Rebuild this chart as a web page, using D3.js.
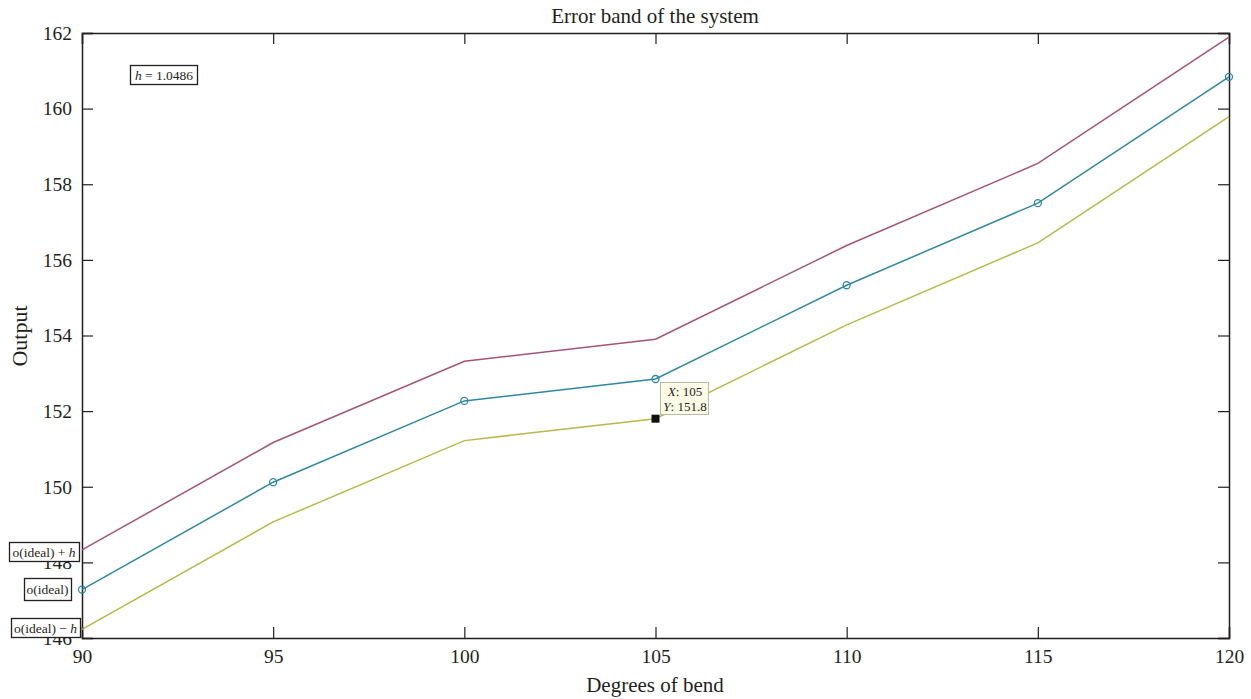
<!DOCTYPE html>
<html><head><meta charset="utf-8">
<script src="https://cdn.jsdelivr.net/npm/d3@7"></script>
<style>
html,body{margin:0;padding:0;background:#fff;}
svg text{font-family:"Liberation Serif","DejaVu Serif",serif;fill:#231f20;}
</style></head>
<body>
<svg id="chart" width="1251" height="699"></svg>
<script>
const degrees = [90, 95, 100, 105, 110, 115, 120];
const idealOutput = [147.28, 150.12, 152.27, 152.85, 155.33, 157.50, 160.84];
const upperOutput = [148.33, 151.17, 153.32, 153.90, 156.38, 158.55, 161.89];
const lowerOutput = [146.23, 149.07, 151.22, 151.80, 154.28, 156.45, 159.79];
const xTicks = [90, 95, 100, 105, 110, 115, 120];
const yTicks = [146, 148, 150, 152, 154, 156, 158, 160, 162];
const hValue = "1.0486";
const tipX = 105, tipY = 151.8;

const svg = d3.select("#chart");
const L = 82, R = 1229, T = 33, B = 638;
const x = d3.scaleLinear().domain([90, 120]).range([L, R]);
const y = d3.scaleLinear().domain([146, 162]).range([B, T]);
const axisColor = "#231f20";
const fs = 19.5;

// axes with inward ticks
const gB = svg.append("g").attr("transform", `translate(0,${B})`)
  .call(d3.axisBottom(x).tickValues(xTicks).tickSize(-11).tickPadding(11).tickFormat(d3.format("d")));
const gT = svg.append("g").attr("transform", `translate(0,${T})`)
  .call(d3.axisTop(x).tickValues(xTicks).tickSize(-11).tickFormat(""));
const gL = svg.append("g").attr("transform", `translate(${L},0)`)
  .call(d3.axisLeft(y).tickValues(yTicks).tickSize(-11).tickPadding(10).tickFormat(d3.format("d")));
const gR = svg.append("g").attr("transform", `translate(${R},0)`)
  .call(d3.axisRight(y).tickValues(yTicks).tickSize(-11).tickFormat(""));
[gB, gT, gL, gR].forEach(g => {
  g.selectAll("path").attr("stroke", axisColor).attr("stroke-width", 1.5);
  g.selectAll("line").attr("stroke", axisColor).attr("stroke-width", 1.2);
  g.selectAll("text").attr("font-size", fs).attr("font-family", "Liberation Serif").attr("fill", axisColor);
});

// lines
const line = vals => d3.line().x((d, i) => x(degrees[i])).y(d => y(d))(vals);
const cUpper = "#a5566f", cIdeal = "#2f88a3", cLower = "#b8b84a";
const plot = svg.append("g");
plot.append("path").attr("d", line(upperOutput)).attr("fill", "none").attr("stroke", cUpper).attr("stroke-width", 1.5);
plot.append("path").attr("d", line(lowerOutput)).attr("fill", "none").attr("stroke", cLower).attr("stroke-width", 1.5);
plot.append("path").attr("d", line(idealOutput)).attr("fill", "none").attr("stroke", cIdeal).attr("stroke-width", 1.5);
plot.selectAll("circle.m").data(idealOutput).enter().append("circle")
  .attr("cx", (d, i) => x(degrees[i])).attr("cy", d => y(d)).attr("r", 3.5)
  .attr("fill", "none").attr("stroke", cIdeal).attr("stroke-width", 1.3);

// title and axis labels
svg.append("text").attr("x", 655).attr("y", 23).attr("text-anchor", "middle").attr("font-size", 21).text("Error band of the system");
svg.append("text").attr("x", 655).attr("y", 692).attr("text-anchor", "middle").attr("font-size", 21).text("Degrees of bend");
svg.append("text").attr("transform", "translate(27,336) rotate(-90)").attr("text-anchor", "middle").attr("font-size", 22).text("Output");

// h box
const hb = svg.append("g");
hb.append("rect").attr("x", 130.5).attr("y", 65.5).attr("width", 67).attr("height", 19).attr("fill", "#fff").attr("stroke", "#231f20").attr("stroke-width", 1.3);
const ht = hb.append("text").attr("x", 164).attr("y", 79.5).attr("text-anchor", "middle").attr("font-size", 13.5);
ht.append("tspan").attr("font-style", "italic").text("h");
ht.append("tspan").text(" = " + hValue);

// left labels
function labelBox(x0, x1, y0, y1, parts) {
  const g = svg.append("g");
  g.append("rect").attr("x", x0 + 0.5).attr("y", y0 + 0.5).attr("width", x1 - x0).attr("height", y1 - y0)
    .attr("fill", "#fff").attr("stroke", "#231f20").attr("stroke-width", 1.3);
  const t = g.append("text").attr("x", (x0 + x1) / 2).attr("y", (y0 + y1) / 2 + 5).attr("text-anchor", "middle").attr("font-size", 13.5);
  parts.forEach(p => t.append("tspan").attr("font-style", p[1] ? "italic" : "normal").text(p[0]));
}
labelBox(9, 79, 542, 561, [["o(ideal) + ", false], ["h", true]]);
labelBox(24, 71, 578, 600, [["o(ideal)", false]]);
labelBox(11, 80, 618, 637, [["o(ideal) \u2212 ", false], ["h", true]]);

// datatip
svg.append("rect").attr("x", x(tipX) - 4).attr("y", y(tipY) - 4).attr("width", 8).attr("height", 8).attr("fill", "#111");
const tip = svg.append("g");
tip.append("rect").attr("x", 660.5).attr("y", 382.5).attr("width", 48).attr("height", 32)
  .attr("fill", "#fbfbe6").attr("stroke", "#b9b9a8").attr("stroke-width", 1);
const t1 = tip.append("text").attr("x", 685).attr("y", 395.5).attr("text-anchor", "middle").attr("font-size", 13);
t1.append("tspan").attr("font-style", "italic").text("X");
t1.append("tspan").text(": " + tipX);
const t2 = tip.append("text").attr("x", 685).attr("y", 410.5).attr("text-anchor", "middle").attr("font-size", 13);
t2.append("tspan").attr("font-style", "italic").text("Y");
t2.append("tspan").text(": " + tipY);
</script>
</body></html>
